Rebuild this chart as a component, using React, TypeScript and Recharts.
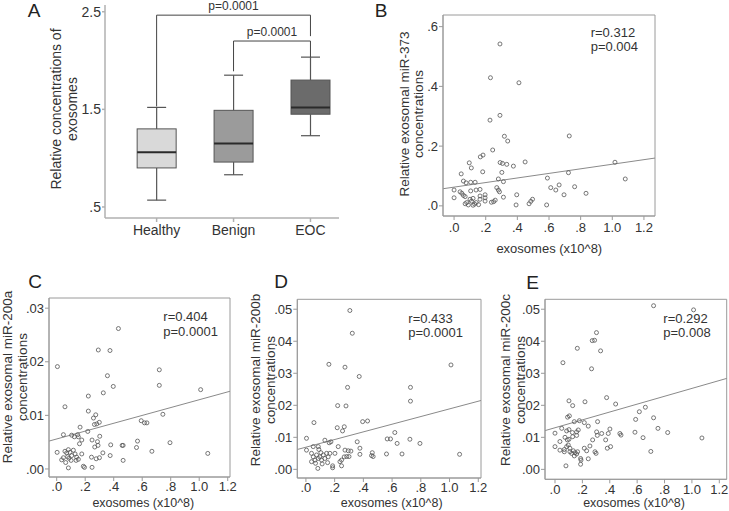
import React from 'react';
import { ComposedChart, ScatterChart, Scatter, Bar, XAxis, YAxis, ReferenceLine, ReferenceArea } from 'recharts';

const FONT = '"Liberation Sans", Arial, Helvetica, sans-serif';
const TEXT = '#333';
const FRAME = '#9a9a9a';

// ---------- Panel A (box plot) ----------
const groups = ['Healthy', 'Benign', 'EOC'];
const boxMin = [0.57, 0.83, 1.23];
const boxQ1 = [0.9, 0.96, 1.45];
const boxMedian = [1.06, 1.15, 1.52];
const boxQ3 = [1.3, 1.49, 1.8];
const boxMax = [1.52, 1.85, 2.035];
const boxFill = ['#d9d9d9', '#9b9b9b', '#6b6b6b'];
const aTicks = [0.5, 1.5, 2.5];
const aTickLabels = ['.5', '1.5', '2.5'];
const bracketSpan = [[1, 3], [2, 3]];
const bracketLevels = [[1.53, 2.465, 2.25], [1.89, 2.2, 2.035]];
const bracketLabels = ['p=0.0001', 'p=0.0001'];

// ---------- Scatter panels ----------
const xTicks = [0, 0.2, 0.4, 0.6, 0.8, 1.0, 1.2];
const yTicksB = [0, 0.2, 0.4, 0.6];
const yTicksC = [0, 0.01, 0.02, 0.03];
const yTicksDE = [0, 0.01, 0.02, 0.03, 0.04, 0.05];

const miR373 = [
  [0.29, 0.542], [0.23, 0.429], [0.41, 0.412], [0.227, 0.287], [0.29, 0.303], [0.318, 0.233], [0.339, 0.217],
  [0.244, 0.187], [0.183, 0.17], [0.166, 0.164], [0.096, 0.144], [0.109, 0.127], [0.045, 0.107], [0.181, 0.114],
  [0.291, 0.145], [0.306, 0.142], [0.333, 0.139], [0.375, 0.133], [0.449, 0.147], [0.302, 0.112], [0.059, 0.083],
  [0.076, 0.077], [0.105, 0.079], [0.133, 0.079], [0.28, 0.09], [0.312, 0.081], [0.0, 0.053], [0.0, 0.027],
  [0.038, 0.047], [0.049, 0.042], [0.059, 0.035], [0.07, 0.031], [0.105, 0.05], [0.139, 0.053], [0.164, 0.055],
  [0.27, 0.061], [0.28, 0.053], [0.287, 0.047], [0.196, 0.037], [0.164, 0.033], [0.196, 0.027], [0.164, 0.022],
  [0.196, 0.016], [0.312, 0.029], [0.26, 0.019], [0.25, 0.014], [0.236, 0.012], [0.396, 0.037], [0.392, 0.003],
  [0.08, 0.011], [0.09, 0.003], [0.11, 0.016], [0.12, 0.002], [0.13, 0.006], [0.14, 0.011], [0.155, 0.004],
  [0.07, 0.007], [0.101, 0.022], [0.12, 0.025], [0.485, 0.015], [0.496, 0.022], [0.474, 0.007], [0.585, 0.003],
  [0.59, 0.093], [0.611, 0.061], [0.643, 0.053], [0.664, 0.07], [0.695, 0.037], [0.723, 0.111], [0.728, 0.234],
  [0.762, 0.064], [0.834, 0.042], [1.017, 0.146], [1.082, 0.09],
];
const miR200a = [
  [0.433, 0.0262], [0.292, 0.0222], [0.374, 0.0221], [0.005, 0.0191], [0.356, 0.0174], [0.397, 0.0154], [0.327, 0.0142],
  [0.222, 0.0136], [0.058, 0.0116], [0.222, 0.0108], [0.274, 0.0101], [0.258, 0.0095], [0.299, 0.0087], [0.281, 0.0084],
  [0.265, 0.0083], [0.164, 0.0078], [0.218, 0.007], [0.047, 0.0064], [0.105, 0.0063], [0.124, 0.006], [0.147, 0.0064],
  [0.152, 0.006], [0.176, 0.0054], [0.16, 0.0047], [0.302, 0.0061], [0.248, 0.0054], [0.286, 0.0051], [0.267, 0.0041],
  [0.29, 0.0044], [0.379, 0.0045], [0.466, 0.0044], [0.459, 0.0044], [0.567, 0.0052], [0.56, 0.004], [0.593, 0.009],
  [0.616, 0.0086], [0.633, 0.0086], [0.668, 0.0033], [0.003, 0.0031], [0.035, 0.0017], [0.047, 0.0021], [0.058, 0.0033],
  [0.07, 0.003], [0.082, 0.0036], [0.093, 0.0031], [0.105, 0.0025], [0.117, 0.0035], [0.129, 0.0028], [0.14, 0.0022],
  [0.152, 0.0018], [0.136, 0.0016], [0.063, 0.0012], [0.086, 0.002], [0.176, 0.0028], [0.077, 0.0023], [0.101, 0.0016],
  [0.082, 0.0002], [0.187, 0.0005], [0.195, 0.0003], [0.248, 0.0003], [0.244, 0.0022], [0.277, 0.0019], [0.3, 0.0021],
  [0.324, 0.003], [0.466, 0.0016], [0.72, 0.0185], [0.72, 0.0156], [1.01, 0.0148], [0.745, 0.0102], [0.795, 0.0049],
  [1.06, 0.0029], [0.375, 0.0025],
];
const miR200b = [
  [0.306, 0.0496], [0.323, 0.0425], [0.16, 0.0328], [0.272, 0.0319], [0.371, 0.029], [0.29, 0.0256], [0.728, 0.0256],
  [0.728, 0.0213], [1.01, 0.0326], [1.07, 0.0047], [0.724, 0.0094], [0.794, 0.0081], [0.221, 0.0199], [0.279, 0.0198],
  [0.056, 0.0146], [0.218, 0.013], [0.267, 0.0133], [0.255, 0.012], [0.395, 0.0149], [0.429, 0.0151], [0.004, 0.0097],
  [0.004, 0.006], [0.132, 0.0091], [0.174, 0.0086], [0.162, 0.0083], [0.051, 0.0071], [0.086, 0.0071], [0.09, 0.0062],
  [0.225, 0.0071], [0.357, 0.0086], [0.376, 0.0066], [0.376, 0.0047], [0.272, 0.006], [0.295, 0.0058], [0.313, 0.0057],
  [0.566, 0.0095], [0.589, 0.0095], [0.619, 0.0115], [0.635, 0.0081], [0.669, 0.0048], [0.561, 0.0048], [0.462, 0.0052],
  [0.457, 0.0043], [0.468, 0.004], [0.284, 0.004], [0.3, 0.004], [0.267, 0.0039], [0.248, 0.0029], [0.237, 0.0024],
  [0.248, 0.0011], [0.186, 0.0011], [0.186, 0.0005], [0.083, 0.0003], [0.039, 0.005], [0.051, 0.0039], [0.063, 0.0029],
  [0.074, 0.0045], [0.086, 0.0034], [0.097, 0.0039], [0.109, 0.0029], [0.121, 0.0045], [0.132, 0.0034], [0.144, 0.005],
  [0.155, 0.0039], [0.039, 0.0024], [0.067, 0.0019], [0.113, 0.0017], [0.151, 0.0021], [0.167, 0.005], [0.202, 0.005],
  [0.104, 0.0052],
];
const miR200c = [
  [0.72, 0.0511], [1.012, 0.0498], [0.303, 0.0427], [0.272, 0.0402], [0.289, 0.0403], [0.163, 0.0378], [0.333, 0.037],
  [0.058, 0.0333], [0.267, 0.0314], [0.66, 0.0194], [0.72, 0.0161], [0.752, 0.0128], [0.823, 0.0115], [0.643, 0.0099],
  [0.7, 0.0056], [1.073, 0.0098], [0.589, 0.0156], [0.616, 0.018], [0.584, 0.0116], [0.102, 0.0214], [0.129, 0.0199],
  [0.219, 0.0211], [0.377, 0.0224], [0.443, 0.0204], [0.092, 0.0163], [0.105, 0.0167], [0.141, 0.0149], [0.178, 0.0152],
  [0.214, 0.0146], [0.311, 0.0149], [0.0, 0.0113], [0.049, 0.0128], [0.085, 0.012], [0.102, 0.0124], [0.127, 0.0115],
  [0.158, 0.0117], [0.17, 0.0123], [0.158, 0.0106], [0.129, 0.0102], [0.073, 0.01], [0.09, 0.0092], [0.102, 0.0094],
  [0.036, 0.0087], [0.243, 0.0135], [0.304, 0.0117], [0.341, 0.0112], [0.309, 0.0106], [0.37, 0.0092], [0.401, 0.0126],
  [0.389, 0.0112], [0.474, 0.0112], [0.482, 0.0107], [0.275, 0.0092], [0.255, 0.0073], [0.292, 0.0055], [0.3, 0.005],
  [0.214, 0.0066], [0.231, 0.0058], [0.406, 0.0071], [0.382, 0.0066], [0.0, 0.0071], [0.036, 0.006], [0.068, 0.0062],
  [0.085, 0.0071], [0.097, 0.0076], [0.109, 0.0066], [0.068, 0.0055], [0.109, 0.0055], [0.121, 0.005], [0.134, 0.0058],
  [0.146, 0.0052], [0.158, 0.0048], [0.141, 0.0042], [0.165, 0.0055], [0.187, 0.0034], [0.19, 0.0029], [0.187, 0.0016],
  [0.243, 0.0033], [0.08, 0.0011],
];

// regression lines: [x, y] endpoints
const fitB = [[-0.07, 0.0573], [1.27, 0.16]];
const fitC = [[-0.054, 0.0052], [1.216, 0.0145]];
const fitD = [[-0.06, 0.0062], [1.219, 0.0215]];
const fitE = [[-0.073, 0.0121], [1.254, 0.0284]];

const stripZero = (d: number) => (v: number) => {
  const s = Number(v).toFixed(d);
  return s.startsWith('0.') ? s.slice(1) : s;
};

const BoxShape = (props: any) => {
  const { x, y, width, height, payload } = props;
  const top = Math.min(y, y + height);
  const h = Math.abs(height);
  const ppu = h / (payload.q3 - payload.q1);
  const yOf = (v: number) => top + (payload.q3 - v) * ppu;
  const cx = x + width / 2;
  const cap = 9.5;
  const yMax = yOf(payload.max);
  const yMin = yOf(payload.min);
  const yMed = yOf(payload.median);
  return (
    <g>
      <line x1={cx} x2={cx} y1={yMax} y2={top} stroke="#555" strokeWidth={1.2} />
      <line x1={cx} x2={cx} y1={top + h} y2={yMin} stroke="#555" strokeWidth={1.2} />
      <line x1={cx - cap} x2={cx + cap} y1={yMax} y2={yMax} stroke="#555" strokeWidth={1.2} />
      <line x1={cx - cap} x2={cx + cap} y1={yMin} y2={yMin} stroke="#555" strokeWidth={1.2} />
      <rect x={x} y={top} width={width} height={h} fill={payload.fill} stroke="#555" strokeWidth={1} />
      <line x1={x} x2={x + width} y1={yMed} y2={yMed} stroke="#2a2a2a" strokeWidth={2} />
    </g>
  );
};

const Dot = (props: any) => (
  <circle cx={props.cx} cy={props.cy} r={2} fill="none" stroke="#555" strokeWidth={0.8} />
);

const tickStyle = (size: number) => ({ fontSize: size, fill: TEXT, fontFamily: FONT });

function PanelA() {
  const data = groups.map((g, i) => ({
    pos: i + 1, name: g, min: boxMin[i], q1: boxQ1[i], median: boxMedian[i], q3: boxQ3[i], max: boxMax[i], fill: boxFill[i],
  }));
  const lines: any[] = [];
  bracketSpan.forEach(([from, to], i) => {
    const [lb, tp, rb] = bracketLevels[i];
    lines.push(<ReferenceLine key={`l${i}`} segment={[{ x: from, y: lb }, { x: from, y: tp }]} stroke="#444" ifOverflow="visible" />);
    lines.push(
      <ReferenceLine key={`t${i}`} segment={[{ x: from, y: tp }, { x: to, y: tp }]} stroke="#444" ifOverflow="visible"
        label={{ value: bracketLabels[i], position: 'top', offset: 5, fontSize: 12, fill: TEXT, fontFamily: FONT }} />
    );
    lines.push(<ReferenceLine key={`r${i}`} segment={[{ x: to, y: tp }, { x: to, y: rb }]} stroke="#444" ifOverflow="visible" />);
  });
  return (
    <div style={{ position: 'absolute', left: 0, top: 0 }}>
      <ComposedChart width={370} height={260} data={data} margin={{ top: 5, right: 31, left: 0, bottom: 12 }}>
        <XAxis type="number" dataKey="pos" domain={[0.329, 3.371]} ticks={[1, 2, 3]} allowDataOverflow
          tickFormatter={(v: number) => groups[v - 1]} height={30} tickSize={4} tickMargin={3}
          stroke="#b0b0b0" strokeWidth={1.5} tick={tickStyle(14)} />
        <YAxis type="number" domain={[0.387, 2.569]} ticks={aTicks} allowDataOverflow
          tickFormatter={(v: number) => aTickLabels[aTicks.indexOf(v)]} width={105} tickSize={3} tickMargin={1}
          stroke="#b0b0b0" strokeWidth={1.5} tick={tickStyle(14)} />
        <Bar dataKey={(d: any) => [d.q1, d.q3]} barSize={39} shape={BoxShape} isAnimationActive={false} />
        {lines}
      </ComposedChart>
    </div>
  );
}

type PanelProps = {
  left: number; top: number; width: number; height: number;
  plot: number[]; xDomain: number[]; yDomain: number[]; yTicks: number[]; yDigits: number;
  points: number[][]; fit: number[][]; xTickMargin: number;
};

function ScatterPanel(p: PanelProps) {
  const [pl, pt, pr, pb] = p.plot;
  const data = p.points.map(([x, y]) => ({ x, y }));
  return (
    <div style={{ position: 'absolute', left: p.left, top: p.top }}>
      <ScatterChart width={p.width} height={p.height}
        margin={{ top: pt, right: p.width - pr, left: 0, bottom: p.height - pb - 30 }}>
        <XAxis type="number" dataKey="x" domain={p.xDomain} ticks={xTicks} allowDataOverflow
          tickFormatter={stripZero(1)} height={30} tickSize={4} tickMargin={p.xTickMargin} stroke={FRAME} tick={tickStyle(13)} />
        <YAxis type="number" dataKey="y" domain={p.yDomain} ticks={p.yTicks} allowDataOverflow
          tickFormatter={stripZero(p.yDigits)} width={pl} tickSize={4} tickMargin={1} stroke={FRAME} tick={tickStyle(13)} />
        <ReferenceArea x1={p.xDomain[0]} x2={p.xDomain[1]} y1={p.yDomain[0]} y2={p.yDomain[1]}
          fill="none" fillOpacity={0} stroke={FRAME} strokeWidth={1} ifOverflow="visible" />
        <ReferenceLine segment={[{ x: p.fit[0][0], y: p.fit[0][1] }, { x: p.fit[1][0], y: p.fit[1][1] }]}
          stroke="#8a8a8a" strokeWidth={1} ifOverflow="visible" />
        <Scatter data={data} shape={Dot} isAnimationActive={false} />
      </ScatterChart>
    </div>
  );
}

function Txt(props: { x: number; y: number; size: number; anchor?: string; rotate?: boolean; lh?: number; children: any; color?: string }) {
  const { x, y, size, anchor = 'middle', rotate = false, lh, children, color = TEXT } = props;
  const tx = anchor === 'middle' ? '-50%' : anchor === 'start' ? '0%' : '-100%';
  return (
    <div style={{
      position: 'absolute', left: x, top: y, fontSize: size, lineHeight: `${lh ?? size}px`, fontFamily: FONT,
      color, whiteSpace: 'nowrap', textAlign: anchor === 'start' ? 'left' : 'center',
      transform: `translate(${tx}, -50%)${rotate ? ' rotate(-90deg)' : ''}`,
    }}>{children}</div>
  );
}

export default function App() {
  return (
    <div style={{ position: 'absolute', left: 0, top: 0, width: 729, height: 511, background: '#fff', overflow: 'hidden' }}>
      <PanelA />
      <ScatterPanel left={370} top={0} width={359} height={260} plot={[73, 15, 285, 216]} xTickMargin={3}
        xDomain={[-0.07, 1.27]} yDomain={[-0.034, 0.639]} yTicks={yTicksB} yDigits={1} points={miR373} fit={fitB} />
      <ScatterPanel left={0} top={270} width={245} height={241} plot={[49, 28, 230, 207]} xTickMargin={1}
        xDomain={[-0.054, 1.216]} yDomain={[-0.0015, 0.0319]} yTicks={yTicksC} yDigits={2} points={miR200a} fit={fitC} />
      <ScatterPanel left={245} top={270} width={245} height={241} plot={[52.3, 29.3, 236, 208]} xTickMargin={1}
        xDomain={[-0.06, 1.219]} yDomain={[-0.0027, 0.0531]} yTicks={yTicksDE} yDigits={2} points={miR200b} fit={fitD} />
      <ScatterPanel left={485} top={270} width={244} height={241} plot={[60, 29.3, 241.7, 209.3]} xTickMargin={1}
        xDomain={[-0.073, 1.254]} yDomain={[-0.0031, 0.0531]} yTicks={yTicksDE} yDigits={2} points={miR200c} fit={fitE} />

      <Txt x={34} y={10} size={19} color="#222">A</Txt>
      <Txt x={381} y={10} size={19} color="#222">B</Txt>
      <Txt x={35} y={281} size={19} color="#222">C</Txt>
      <Txt x={281} y={281} size={19} color="#222">D</Txt>
      <Txt x={532.5} y={282} size={19} color="#222">E</Txt>

      <Txt x={63.5} y={109} size={14} lh={16} rotate>Relative concentrations of<br />exosomes</Txt>
      <Txt x={412} y={114} size={13.5} lh={14} rotate>Relative exosomal miR-373<br />concentrations</Txt>
      <Txt x={14.8} y={377} size={13.5} lh={15} rotate>Relative exosomal miR-200a<br />concentrations</Txt>
      <Txt x={263.2} y={380} size={13.5} lh={15} rotate>Relative exosomal miR-200b<br />concentrations</Txt>
      <Txt x={513.2} y={380} size={13.5} lh={15} rotate>Relative exosomal miR-200c<br />concentrations</Txt>

      <Txt x={549.3} y={248} size={13}>exosomes (x10^8)</Txt>
      <Txt x={143.3} y={503} size={12.5} lh={12}>exosomes (x10^8)</Txt>
      <Txt x={391.7} y={503} size={12.5} lh={12}>exosomes (x10^8)</Txt>
      <Txt x={634} y={503} size={12.5} lh={12}>exosomes (x10^8)</Txt>

      <Txt x={590.7} y={39.5} size={13} lh={14.4} anchor="start">r=0.312<br />p=0.004</Txt>
      <Txt x={163.3} y={324.2} size={13} lh={15} anchor="start">r=0.404<br />p=0.0001</Txt>
      <Txt x={408.3} y={325.5} size={13} lh={14.4} anchor="start">r=0.433<br />p=0.0001</Txt>
      <Txt x={663.3} y={325.5} size={13} lh={14.4} anchor="start">r=0.292<br />p=0.008</Txt>
    </div>
  );
}
